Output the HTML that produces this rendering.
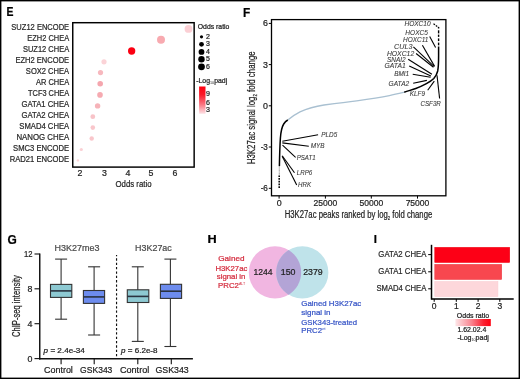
<!DOCTYPE html>
<html><head><meta charset="utf-8">
<style>
html,body{margin:0;padding:0;background:#fff;}
body{width:520px;height:379px;overflow:hidden;}
svg{display:block;will-change:transform;}
text{font-family:"Liberation Sans",sans-serif;stroke-width:0.22px;}
</style></head><body>
<svg width="520" height="379" viewBox="0 0 520 379">
<rect x="0" y="0" width="520" height="379" fill="#fff"/>
<defs>
<linearGradient id="gE" x1="0" y1="0" x2="0" y2="1">
<stop offset="0" stop-color="#fe0010"/>
<stop offset="0.3" stop-color="#fb1a2a"/>
<stop offset="0.65" stop-color="#f97380"/>
<stop offset="1" stop-color="#fde2e5"/>
</linearGradient>
<linearGradient id="gI" x1="0" y1="0" x2="1" y2="0">
<stop offset="0" stop-color="#fde6e8"/>
<stop offset="0.45" stop-color="#f98590"/>
<stop offset="0.8" stop-color="#fb2030"/>
<stop offset="1" stop-color="#fe0010"/>
</linearGradient>
</defs>
<text x="6.62" y="16.00" font-size="12.72" fill="#000" stroke="#000" text-anchor="start" textLength="6.96" lengthAdjust="spacingAndGlyphs" font-weight="bold">E</text>
<text x="69.15" y="30.20" font-size="8.28" fill="#2a2a2a" stroke="#2a2a2a" text-anchor="end" textLength="57.80" lengthAdjust="spacingAndGlyphs">SUZ12 ENCODE</text>
<text x="69.15" y="41.17" font-size="8.28" fill="#2a2a2a" stroke="#2a2a2a" text-anchor="end" textLength="41.80" lengthAdjust="spacingAndGlyphs">EZH2 CHEA</text>
<text x="69.15" y="52.14" font-size="8.28" fill="#2a2a2a" stroke="#2a2a2a" text-anchor="end" textLength="46.20" lengthAdjust="spacingAndGlyphs">SUZ12 CHEA</text>
<text x="69.15" y="63.11" font-size="8.28" fill="#2a2a2a" stroke="#2a2a2a" text-anchor="end" textLength="53.70" lengthAdjust="spacingAndGlyphs">EZH2 ENCODE</text>
<text x="69.15" y="74.08" font-size="8.28" fill="#2a2a2a" stroke="#2a2a2a" text-anchor="end" textLength="43.30" lengthAdjust="spacingAndGlyphs">SOX2 CHEA</text>
<text x="69.15" y="85.05" font-size="8.28" fill="#2a2a2a" stroke="#2a2a2a" text-anchor="end" textLength="33.10" lengthAdjust="spacingAndGlyphs">AR CHEA</text>
<text x="69.15" y="96.02" font-size="8.28" fill="#2a2a2a" stroke="#2a2a2a" text-anchor="end" textLength="41.10" lengthAdjust="spacingAndGlyphs">TCF3 CHEA</text>
<text x="69.15" y="106.99" font-size="8.28" fill="#2a2a2a" stroke="#2a2a2a" text-anchor="end" textLength="47.60" lengthAdjust="spacingAndGlyphs">GATA1 CHEA</text>
<text x="69.15" y="117.96" font-size="8.28" fill="#2a2a2a" stroke="#2a2a2a" text-anchor="end" textLength="47.60" lengthAdjust="spacingAndGlyphs">GATA2 CHEA</text>
<text x="69.15" y="128.93" font-size="8.28" fill="#2a2a2a" stroke="#2a2a2a" text-anchor="end" textLength="49.80" lengthAdjust="spacingAndGlyphs">SMAD4 CHEA</text>
<text x="69.15" y="139.90" font-size="8.28" fill="#2a2a2a" stroke="#2a2a2a" text-anchor="end" textLength="52.70" lengthAdjust="spacingAndGlyphs">NANOG CHEA</text>
<text x="69.15" y="150.87" font-size="8.28" fill="#2a2a2a" stroke="#2a2a2a" text-anchor="end" textLength="56.10" lengthAdjust="spacingAndGlyphs">SMC3 ENCODE</text>
<text x="69.15" y="161.84" font-size="8.28" fill="#2a2a2a" stroke="#2a2a2a" text-anchor="end" textLength="59.50" lengthAdjust="spacingAndGlyphs">RAD21 ENCODE</text>
<rect x="72.75" y="22.7" width="121.4" height="144.4" fill="none" stroke="#000" stroke-width="1.45"/>
<circle cx="188.5" cy="28.9" r="3.9" fill="#fbcfd4"/>
<circle cx="161.0" cy="39.85" r="4.0" fill="#f8aab0"/>
<circle cx="131.65" cy="51.0" r="3.65" fill="#fb0012"/>
<circle cx="104" cy="61.8" r="2.6" fill="#fbd3d7"/>
<circle cx="100.5" cy="72.6" r="2.6" fill="#f7b8be"/>
<circle cx="100.2" cy="83.7" r="2.8" fill="#f5a6ae"/>
<circle cx="100" cy="94.9" r="2.8" fill="#f6aab1"/>
<circle cx="97.6" cy="105.9" r="2.7" fill="#f6b3b9"/>
<circle cx="92.8" cy="116.7" r="2.4" fill="#f8c3c8"/>
<circle cx="92.8" cy="127.6" r="2.3" fill="#f9c6cb"/>
<circle cx="91.7" cy="138.5" r="2.2" fill="#f9c6cb"/>
<circle cx="81.3" cy="149.5" r="1.6" fill="#fad0d4"/>
<circle cx="77.9" cy="160.4" r="1.2" fill="#fbd5d8"/>
<text x="80.00" y="175.80" font-size="8.80" fill="#222" stroke="#222" text-anchor="middle">2</text>
<text x="104.50" y="175.80" font-size="8.80" fill="#222" stroke="#222" text-anchor="middle">3</text>
<text x="127.90" y="175.80" font-size="8.80" fill="#222" stroke="#222" text-anchor="middle">4</text>
<text x="150.90" y="175.80" font-size="8.80" fill="#222" stroke="#222" text-anchor="middle">5</text>
<text x="175.00" y="175.80" font-size="8.80" fill="#222" stroke="#222" text-anchor="middle">6</text>
<text x="133.50" y="187.00" font-size="9.88" fill="#222" stroke="#222" text-anchor="middle" textLength="36.09" lengthAdjust="spacingAndGlyphs">Odds ratio</text>
<text x="197.80" y="28.70" font-size="6.83" fill="#222" stroke="#222" text-anchor="start" textLength="31.61" lengthAdjust="spacingAndGlyphs">Odds ratio</text>
<circle cx="201.5" cy="36.8" r="1.6" fill="#000"/>
<circle cx="201.5" cy="44.3" r="2.4" fill="#000"/>
<circle cx="201.5" cy="51.9" r="2.9" fill="#000"/>
<circle cx="201.5" cy="59.2" r="3.2" fill="#000"/>
<circle cx="201.5" cy="66.8" r="3.4" fill="#000"/>
<text x="205.89" y="38.70" font-size="7.00" fill="#222" stroke="#222" text-anchor="start">2</text>
<text x="205.89" y="46.00" font-size="7.00" fill="#222" stroke="#222" text-anchor="start">3</text>
<text x="205.89" y="53.60" font-size="7.00" fill="#222" stroke="#222" text-anchor="start">4</text>
<text x="205.89" y="61.10" font-size="7.00" fill="#222" stroke="#222" text-anchor="start">5</text>
<text x="205.89" y="68.70" font-size="7.00" fill="#222" stroke="#222" text-anchor="start">6</text>
<text x="196.2" y="82.7" font-size="6.7" fill="#222" stroke="#222" textLength="31" lengthAdjust="spacingAndGlyphs">-Log<tspan font-size="3.6" dy="1.4" stroke="none">10</tspan><tspan dy="-1.4">padj</tspan></text>
<rect x="199.1" y="86.5" width="6.4" height="27.3" fill="url(#gE)"/>
<text x="205.89" y="96.20" font-size="7.10" fill="#222" stroke="#222" text-anchor="start">9</text>
<text x="205.89" y="104.70" font-size="7.10" fill="#222" stroke="#222" text-anchor="start">6</text>
<text x="205.89" y="112.00" font-size="7.10" fill="#222" stroke="#222" text-anchor="start">3</text>
<text x="242.93" y="17.10" font-size="12.28" fill="#000" stroke="#000" text-anchor="start" textLength="7.24" lengthAdjust="spacingAndGlyphs" font-weight="bold">F</text>
<rect x="271.5" y="19.6" width="174.4" height="176.2" fill="none" stroke="#000" stroke-width="1.3"/>
<line x1="268.8" y1="23.4" x2="271.5" y2="23.4" stroke="#000" stroke-width="1"/>
<text x="267.86" y="26.40" font-size="8.80" fill="#222" stroke="#222" text-anchor="end" textLength="4.93" lengthAdjust="spacingAndGlyphs">6</text>
<line x1="268.8" y1="64.6" x2="271.5" y2="64.6" stroke="#000" stroke-width="1"/>
<text x="267.86" y="67.60" font-size="8.80" fill="#222" stroke="#222" text-anchor="end" textLength="4.93" lengthAdjust="spacingAndGlyphs">3</text>
<line x1="268.8" y1="105.8" x2="271.5" y2="105.8" stroke="#000" stroke-width="1"/>
<text x="267.86" y="108.80" font-size="8.80" fill="#222" stroke="#222" text-anchor="end" textLength="4.93" lengthAdjust="spacingAndGlyphs">0</text>
<line x1="268.8" y1="147.0" x2="271.5" y2="147.0" stroke="#000" stroke-width="1"/>
<text x="267.86" y="150.00" font-size="8.80" fill="#222" stroke="#222" text-anchor="end" textLength="7.23" lengthAdjust="spacingAndGlyphs">-3</text>
<line x1="268.8" y1="188.3" x2="271.5" y2="188.3" stroke="#000" stroke-width="1"/>
<text x="267.86" y="191.30" font-size="8.80" fill="#222" stroke="#222" text-anchor="end" textLength="7.23" lengthAdjust="spacingAndGlyphs">-6</text>
<line x1="279.1" y1="195.8" x2="279.1" y2="198.6" stroke="#000" stroke-width="1"/>
<text x="279.10" y="205.80" font-size="9.10" fill="#222" stroke="#222" text-anchor="middle" textLength="4.95" lengthAdjust="spacingAndGlyphs">0</text>
<line x1="325.4" y1="195.8" x2="325.4" y2="198.6" stroke="#000" stroke-width="1"/>
<text x="325.40" y="205.80" font-size="9.10" fill="#222" stroke="#222" text-anchor="middle" textLength="23.75" lengthAdjust="spacingAndGlyphs">25000</text>
<line x1="371.3" y1="195.8" x2="371.3" y2="198.6" stroke="#000" stroke-width="1"/>
<text x="371.30" y="205.80" font-size="9.10" fill="#222" stroke="#222" text-anchor="middle" textLength="23.75" lengthAdjust="spacingAndGlyphs">50000</text>
<line x1="417.5" y1="195.8" x2="417.5" y2="198.6" stroke="#000" stroke-width="1"/>
<text x="417.50" y="205.80" font-size="9.10" fill="#222" stroke="#222" text-anchor="middle" textLength="23.75" lengthAdjust="spacingAndGlyphs">75000</text>
<text x="358.5" y="217.7" font-size="10" fill="#222" stroke="#222" text-anchor="middle" textLength="147.5" lengthAdjust="spacingAndGlyphs">H3K27ac peaks ranked by log<tspan font-size="5.5" dy="2">2</tspan><tspan dy="-2"> fold change</tspan></text>
<text transform="translate(255.1,107.8) rotate(-90)" x="0" y="0" font-size="10.4" fill="#222" stroke="#222" text-anchor="middle" textLength="113" lengthAdjust="spacingAndGlyphs">H3K27ac signal log<tspan font-size="5.5" dy="2">2</tspan><tspan dy="-2"> fold change</tspan></text>
<path d="M287.8,120.0 C291.5,116.9 294.5,114.7 300,111.9 C308,108.2 316,106.2 324,105.0 C335,103.5 346,102.0 356.7,100.8 C368,99.4 380,97.7 389.4,95.7 C395,94.5 400,93.3 404.2,92.3" fill="none" stroke="#a9c0d1" stroke-width="1.3"/>
<path d="M279.4,166 C279.6,155 279.9,145 280.4,138 C280.9,131 281.9,127 283.7,124.0 C284.9,122.1 286.2,120.9 287.8,120.0" fill="none" stroke="#000" stroke-width="1.5"/>
<path d="M279.3,166 L279.3,175.4" fill="none" stroke="#888" stroke-width="1.1" stroke-dasharray="0.8,0.6"/>
<path d="M279.2,175.4 L279.2,188.4" fill="none" stroke="#000" stroke-width="1.5" stroke-dasharray="1.7,1.0"/>
<path d="M404.2,92.3 C408,91 412,89.8 415.8,88.5 C420,87 423.5,85.3 426.4,83.7 C429.5,82 432,80.3 433.8,78.5 C435.6,76.5 437,74 437.7,71 C438.4,67.5 438.6,62 438.6,55.8 L438.6,46.5" fill="none" stroke="#000" stroke-width="1.5"/>
<line x1="438.6" y1="27.0" x2="438.6" y2="28.5" stroke="#000" stroke-width="1.4"/>
<line x1="438.6" y1="30.3" x2="438.6" y2="33.4" stroke="#000" stroke-width="1.4"/>
<line x1="438.6" y1="34.6" x2="438.6" y2="36.9" stroke="#000" stroke-width="1.4"/>
<line x1="438.6" y1="38.4" x2="438.6" y2="41.1" stroke="#000" stroke-width="1.4"/>
<line x1="438.6" y1="42.6" x2="438.6" y2="45.3" stroke="#000" stroke-width="1.4"/>
<line x1="282.3" y1="141.2" x2="318.1" y2="134.8" stroke="#000" stroke-width="1.1"/>
<line x1="282.3" y1="142.9" x2="308.8" y2="146.3" stroke="#000" stroke-width="1.1"/>
<line x1="282.5" y1="145.2" x2="295.6" y2="157.3" stroke="#000" stroke-width="1.1"/>
<line x1="282.2" y1="155.8" x2="294.5" y2="172.7" stroke="#000" stroke-width="1.1"/>
<line x1="282.2" y1="156.3" x2="296.7" y2="184.9" stroke="#000" stroke-width="1.1"/>
<line x1="429.7" y1="36.4" x2="435.6" y2="47.4" stroke="#000" stroke-width="1.1"/>
<line x1="422.4" y1="45.3" x2="434.6" y2="66.4" stroke="#000" stroke-width="1.1"/>
<line x1="413.4" y1="46.9" x2="434" y2="66.4" stroke="#000" stroke-width="1.1"/>
<line x1="416.1" y1="53.5" x2="433.5" y2="67.2" stroke="#000" stroke-width="1.1"/>
<line x1="408.2" y1="59.2" x2="431.9" y2="74.3" stroke="#000" stroke-width="1.1"/>
<line x1="409.2" y1="65.9" x2="430.9" y2="75.9" stroke="#000" stroke-width="1.1"/>
<line x1="412.7" y1="74.2" x2="430.6" y2="77.2" stroke="#000" stroke-width="1.1"/>
<line x1="413.2" y1="83.2" x2="426.9" y2="80.4" stroke="#000" stroke-width="1.1"/>
<line x1="427.7" y1="90.3" x2="434.3" y2="81.1" stroke="#000" stroke-width="1.1"/>
<line x1="439.6" y1="98.5" x2="437" y2="75.3" stroke="#000" stroke-width="1.1"/>
<line x1="433.5" y1="23.8" x2="438.3" y2="27.2" stroke="#000" stroke-width="1.2" stroke-dasharray="1.8,1"/>
<text x="321.30" y="137.10" font-size="6.54" fill="#383838" stroke="#383838" text-anchor="start" textLength="15.99" lengthAdjust="spacingAndGlyphs" style="font-style:italic;stroke-width:0.08px">PLD5</text>
<text x="310.70" y="148.10" font-size="6.54" fill="#383838" stroke="#383838" text-anchor="start" textLength="13.89" lengthAdjust="spacingAndGlyphs" style="font-style:italic;stroke-width:0.08px">MYB</text>
<text x="296.70" y="160.00" font-size="6.54" fill="#383838" stroke="#383838" text-anchor="start" textLength="18.99" lengthAdjust="spacingAndGlyphs" style="font-style:italic;stroke-width:0.08px">PSAT1</text>
<text x="296.80" y="175.40" font-size="6.54" fill="#383838" stroke="#383838" text-anchor="start" textLength="15.39" lengthAdjust="spacingAndGlyphs" style="font-style:italic;stroke-width:0.08px">LRP6</text>
<text x="298.00" y="187.00" font-size="6.54" fill="#383838" stroke="#383838" text-anchor="start" textLength="13.09" lengthAdjust="spacingAndGlyphs" style="font-style:italic;stroke-width:0.08px">HRK</text>
<text x="404.40" y="25.80" font-size="6.54" fill="#383838" stroke="#383838" text-anchor="start" textLength="26.29" lengthAdjust="spacingAndGlyphs" style="font-style:italic;stroke-width:0.08px">HOXC10</text>
<text x="405.30" y="34.70" font-size="6.54" fill="#383838" stroke="#383838" text-anchor="start" textLength="22.59" lengthAdjust="spacingAndGlyphs" style="font-style:italic;stroke-width:0.08px">HOXC5</text>
<text x="403.00" y="42.10" font-size="6.54" fill="#383838" stroke="#383838" text-anchor="start" textLength="25.39" lengthAdjust="spacingAndGlyphs" style="font-style:italic;stroke-width:0.08px">HOXC11</text>
<text x="394.00" y="49.30" font-size="6.54" fill="#383838" stroke="#383838" text-anchor="start" textLength="18.39" lengthAdjust="spacingAndGlyphs" style="font-style:italic;stroke-width:0.08px">CUL3</text>
<text x="386.90" y="55.50" font-size="6.54" fill="#383838" stroke="#383838" text-anchor="start" textLength="27.29" lengthAdjust="spacingAndGlyphs" style="font-style:italic;stroke-width:0.08px">HOXC12</text>
<text x="387.00" y="61.90" font-size="6.54" fill="#383838" stroke="#383838" text-anchor="start" textLength="18.69" lengthAdjust="spacingAndGlyphs" style="font-style:italic;stroke-width:0.08px">SNAI2</text>
<text x="384.60" y="67.70" font-size="6.54" fill="#383838" stroke="#383838" text-anchor="start" textLength="21.09" lengthAdjust="spacingAndGlyphs" style="font-style:italic;stroke-width:0.08px">GATA1</text>
<text x="394.20" y="76.10" font-size="6.54" fill="#383838" stroke="#383838" text-anchor="start" textLength="14.99" lengthAdjust="spacingAndGlyphs" style="font-style:italic;stroke-width:0.08px">BMI1</text>
<text x="388.60" y="85.80" font-size="6.54" fill="#383838" stroke="#383838" text-anchor="start" textLength="20.59" lengthAdjust="spacingAndGlyphs" style="font-style:italic;stroke-width:0.08px">GATA2</text>
<text x="409.80" y="96.20" font-size="6.54" fill="#383838" stroke="#383838" text-anchor="start" textLength="15.19" lengthAdjust="spacingAndGlyphs" style="font-style:italic;stroke-width:0.08px">KLF9</text>
<text x="420.40" y="105.90" font-size="6.54" fill="#383838" stroke="#383838" text-anchor="start" textLength="20.49" lengthAdjust="spacingAndGlyphs" style="font-style:italic;stroke-width:0.08px">CSF3R</text>
<text x="7.48" y="243.90" font-size="12.21" fill="#000" stroke="#000" text-anchor="start" textLength="9.28" lengthAdjust="spacingAndGlyphs" font-weight="bold">G</text>
<text x="77.05" y="250.90" font-size="9.30" fill="#4a4a4a" stroke="#4a4a4a" text-anchor="middle" textLength="44.86" lengthAdjust="spacingAndGlyphs">H3K27me3</text>
<text x="153.45" y="250.90" font-size="9.30" fill="#4a4a4a" stroke="#4a4a4a" text-anchor="middle" textLength="36.66" lengthAdjust="spacingAndGlyphs">H3K27ac</text>
<line x1="39.75" y1="253.4" x2="39.75" y2="359.5" stroke="#111" stroke-width="1.45"/>
<line x1="39.1" y1="358.8" x2="192.9" y2="358.8" stroke="#111" stroke-width="1.5"/>
<line x1="34.5" y1="254" x2="39.75" y2="254" stroke="#111" stroke-width="1.1"/>
<text x="32.47" y="257.10" font-size="8.90" fill="#222" stroke="#222" text-anchor="end" textLength="8.53" lengthAdjust="spacingAndGlyphs">12</text>
<line x1="34.5" y1="288.8" x2="39.75" y2="288.8" stroke="#111" stroke-width="1.1"/>
<text x="32.47" y="291.90" font-size="8.90" fill="#222" stroke="#222" text-anchor="end" textLength="4.93" lengthAdjust="spacingAndGlyphs">8</text>
<line x1="34.5" y1="323.7" x2="39.75" y2="323.7" stroke="#111" stroke-width="1.1"/>
<text x="32.47" y="326.80" font-size="8.90" fill="#222" stroke="#222" text-anchor="end" textLength="4.93" lengthAdjust="spacingAndGlyphs">4</text>
<line x1="34.5" y1="358.6" x2="39.75" y2="358.6" stroke="#111" stroke-width="1.1"/>
<text x="32.47" y="361.70" font-size="8.90" fill="#222" stroke="#222" text-anchor="end" textLength="4.93" lengthAdjust="spacingAndGlyphs">0</text>
<line x1="61.1" y1="358.7" x2="61.1" y2="364.2" stroke="#111" stroke-width="1.1"/>
<line x1="94.2" y1="358.7" x2="94.2" y2="364.2" stroke="#111" stroke-width="1.1"/>
<line x1="137.8" y1="358.7" x2="137.8" y2="364.2" stroke="#111" stroke-width="1.1"/>
<line x1="171.3" y1="358.7" x2="171.3" y2="364.2" stroke="#111" stroke-width="1.1"/>
<line x1="116.55" y1="254.9" x2="116.55" y2="358" stroke="#111" stroke-width="1.15" stroke-dasharray="2.3,2.05" stroke-dashoffset="0.9"/>
<text transform="translate(19.9,306.1) rotate(-90)" x="0" y="0" font-size="10.2" fill="#222" stroke="#222" text-anchor="middle" textLength="61.8" lengthAdjust="spacingAndGlyphs">ChIP-seq intensity</text>
<line x1="61.1" y1="259.1" x2="61.1" y2="319.2" stroke="#333" stroke-width="1.1"/>
<line x1="55.1" y1="259.1" x2="67.1" y2="259.1" stroke="#333" stroke-width="1.1"/>
<line x1="55.1" y1="319.2" x2="67.1" y2="319.2" stroke="#333" stroke-width="1.1"/>
<rect x="50.5" y="284.4" width="21.30" height="13.00" fill="#8dc9d2" stroke="#333" stroke-width="1.1"/>
<line x1="50.5" y1="290.9" x2="71.8" y2="290.9" stroke="#2a3340" stroke-width="1.6"/>
<line x1="94.1" y1="266.8" x2="94.1" y2="335" stroke="#333" stroke-width="1.1"/>
<line x1="88.1" y1="266.8" x2="100.1" y2="266.8" stroke="#333" stroke-width="1.1"/>
<line x1="88.1" y1="335" x2="100.1" y2="335" stroke="#333" stroke-width="1.1"/>
<rect x="83.4" y="290.5" width="21.20" height="12.90" fill="#6d8cee" stroke="#333" stroke-width="1.1"/>
<line x1="83.4" y1="296.9" x2="104.6" y2="296.9" stroke="#2a3340" stroke-width="1.6"/>
<line x1="137.8" y1="266.8" x2="137.8" y2="341.4" stroke="#333" stroke-width="1.1"/>
<line x1="131.8" y1="266.8" x2="143.8" y2="266.8" stroke="#333" stroke-width="1.1"/>
<line x1="131.8" y1="341.4" x2="143.8" y2="341.4" stroke="#333" stroke-width="1.1"/>
<rect x="127.3" y="289.8" width="21.50" height="12.70" fill="#8dc9d2" stroke="#333" stroke-width="1.1"/>
<line x1="127.3" y1="296.4" x2="148.8" y2="296.4" stroke="#2a3340" stroke-width="1.6"/>
<line x1="170.4" y1="259.1" x2="170.4" y2="346.5" stroke="#333" stroke-width="1.1"/>
<line x1="164.4" y1="259.1" x2="176.4" y2="259.1" stroke="#333" stroke-width="1.1"/>
<line x1="164.4" y1="346.5" x2="176.4" y2="346.5" stroke="#333" stroke-width="1.1"/>
<rect x="160.4" y="284.3" width="21.20" height="14.10" fill="#6d8cee" stroke="#333" stroke-width="1.1"/>
<line x1="160.4" y1="291.2" x2="181.6" y2="291.2" stroke="#2a3340" stroke-width="1.6"/>
<text x="43.6" y="353.2" font-size="7.4" fill="#222" stroke="#222" textLength="41.3" lengthAdjust="spacingAndGlyphs"><tspan style="font-style:italic">p</tspan> = 2.4e-34</text>
<text x="121.1" y="353.2" font-size="7.4" fill="#222" stroke="#222" textLength="36.4" lengthAdjust="spacingAndGlyphs"><tspan style="font-style:italic">p</tspan> = 6.2e-8</text>
<text x="58.45" y="372.60" font-size="9.45" fill="#222" stroke="#222" text-anchor="middle" textLength="28.87" lengthAdjust="spacingAndGlyphs">Control</text>
<text x="96.25" y="372.60" font-size="9.45" fill="#222" stroke="#222" text-anchor="middle" textLength="32.27" lengthAdjust="spacingAndGlyphs">GSK343</text>
<text x="134.60" y="372.60" font-size="9.45" fill="#222" stroke="#222" text-anchor="middle" textLength="29.37" lengthAdjust="spacingAndGlyphs">Control</text>
<text x="172.15" y="372.60" font-size="9.45" fill="#222" stroke="#222" text-anchor="middle" textLength="33.27" lengthAdjust="spacingAndGlyphs">GSK343</text>
<text x="207.40" y="243.10" font-size="11.77" fill="#000" stroke="#000" text-anchor="start" textLength="9.16" lengthAdjust="spacingAndGlyphs" font-weight="bold">H</text>
<circle cx="275" cy="272.4" r="26.2" fill="#f1b6e1"/>
<circle cx="302.3" cy="272.4" r="26.1" fill="#bfe3ea"/>
<path d="M288.65,250.10 A26.15,26.15 0 0 1 288.65,294.70 A26.15,26.15 0 0 1 288.65,250.10 Z" fill="#b3a4d6"/>
<text x="262.95" y="274.60" font-size="8.72" fill="#222" stroke="#222" text-anchor="middle" textLength="19.02" lengthAdjust="spacingAndGlyphs">1244</text>
<text x="288.10" y="274.60" font-size="8.72" fill="#222" stroke="#222" text-anchor="middle" textLength="14.72" lengthAdjust="spacingAndGlyphs">150</text>
<text x="313.00" y="274.60" font-size="8.72" fill="#222" stroke="#222" text-anchor="middle" textLength="19.52" lengthAdjust="spacingAndGlyphs">2379</text>
<text x="231.40" y="261.20" font-size="7.80" fill="#d42a3c" stroke="#d42a3c" text-anchor="middle" textLength="26.27" lengthAdjust="spacingAndGlyphs">Gained</text>
<text x="231.40" y="270.50" font-size="7.80" fill="#d42a3c" stroke="#d42a3c" text-anchor="middle" textLength="31.87" lengthAdjust="spacingAndGlyphs">H3K27ac</text>
<text x="231.10" y="278.80" font-size="7.80" fill="#d42a3c" stroke="#d42a3c" text-anchor="middle" textLength="28.67" lengthAdjust="spacingAndGlyphs">signal in</text>
<text x="218.1" y="288" font-size="7.8" fill="#d42a3c" stroke="#d42a3c">PRC2<tspan font-size="3.6" dy="-3.3" stroke="none">ALT</tspan></text>
<text x="301.27" y="306.00" font-size="7.80" fill="#3654c6" stroke="#3654c6" text-anchor="start" textLength="59.97" lengthAdjust="spacingAndGlyphs">Gained H3K27ac</text>
<text x="301.27" y="315.20" font-size="7.80" fill="#3654c6" stroke="#3654c6" text-anchor="start" textLength="29.27" lengthAdjust="spacingAndGlyphs">signal in</text>
<text x="301.27" y="324.90" font-size="7.80" fill="#3654c6" stroke="#3654c6" text-anchor="start" textLength="55.87" lengthAdjust="spacingAndGlyphs">GSK343-treated</text>
<text x="301.2" y="333.4" font-size="7.8" fill="#3654c6" stroke="#3654c6">PRC2<tspan font-size="3.6" dy="-3.3" stroke="none">wt</tspan></text>
<text x="373.86" y="243.30" font-size="11.40" fill="#000" stroke="#000" text-anchor="start" font-weight="bold">I</text>
<rect x="434.8" y="247.4" width="74.9" height="15" fill="#fd0016" stroke="#ee0010" stroke-width="0.6"/>
<rect x="434.8" y="264.4" width="66.9" height="15" fill="#f8474f" stroke="#ee3c45" stroke-width="0.6"/>
<rect x="434.8" y="281.6" width="63.1" height="14.9" fill="#fdd7db" stroke="#f9ccd1" stroke-width="0.6"/>
<line x1="431.5" y1="244.8" x2="431.5" y2="299.6" stroke="#000" stroke-width="1.5"/>
<line x1="431.3" y1="299" x2="513.7" y2="299" stroke="#000" stroke-width="1.4"/>
<line x1="428.2" y1="254.6" x2="431.5" y2="254.6" stroke="#000" stroke-width="1"/>
<line x1="428.2" y1="271.8" x2="431.5" y2="271.8" stroke="#000" stroke-width="1"/>
<line x1="428.2" y1="288.8" x2="431.5" y2="288.8" stroke="#000" stroke-width="1"/>
<text x="426.35" y="256.90" font-size="8.28" fill="#2a2a2a" stroke="#2a2a2a" text-anchor="end" textLength="48.00" lengthAdjust="spacingAndGlyphs">GATA2 CHEA</text>
<text x="426.35" y="274.00" font-size="8.28" fill="#2a2a2a" stroke="#2a2a2a" text-anchor="end" textLength="48.00" lengthAdjust="spacingAndGlyphs">GATA1 CHEA</text>
<text x="426.35" y="290.80" font-size="8.28" fill="#2a2a2a" stroke="#2a2a2a" text-anchor="end" textLength="49.90" lengthAdjust="spacingAndGlyphs">SMAD4 CHEA</text>
<line x1="434.2" y1="299" x2="434.2" y2="301.8" stroke="#000" stroke-width="1"/>
<text x="434.20" y="309.30" font-size="8.50" fill="#222" stroke="#222" text-anchor="middle">0</text>
<line x1="456.3" y1="299" x2="456.3" y2="301.8" stroke="#000" stroke-width="1"/>
<text x="456.30" y="309.30" font-size="8.50" fill="#222" stroke="#222" text-anchor="middle">1</text>
<line x1="478.1" y1="299" x2="478.1" y2="301.8" stroke="#000" stroke-width="1"/>
<text x="478.10" y="309.30" font-size="8.50" fill="#222" stroke="#222" text-anchor="middle">2</text>
<line x1="499.8" y1="299" x2="499.8" y2="301.8" stroke="#000" stroke-width="1"/>
<text x="499.80" y="309.30" font-size="8.50" fill="#222" stroke="#222" text-anchor="middle">3</text>
<text x="456.80" y="317.80" font-size="6.70" fill="#222" stroke="#222" text-anchor="start" textLength="32.30" lengthAdjust="spacingAndGlyphs">Odds ratio</text>
<rect x="455.4" y="319" width="35.4" height="7.1" fill="url(#gI)"/>
<text x="457.40" y="331.70" font-size="6.83" fill="#222" stroke="#222" text-anchor="start" textLength="28.91" lengthAdjust="spacingAndGlyphs">1.62.02.4</text>
<text x="457.4" y="339.7" font-size="6.8" fill="#222" stroke="#222" textLength="31.5" lengthAdjust="spacingAndGlyphs">-Log<tspan font-size="3.5" dy="1.4" stroke="none">10</tspan><tspan dy="-1.4">padj</tspan></text>
<rect x="0.7" y="0.7" width="518.6" height="377.6" fill="none" stroke="#000" stroke-width="1.4"/>
</svg>
</body></html>
